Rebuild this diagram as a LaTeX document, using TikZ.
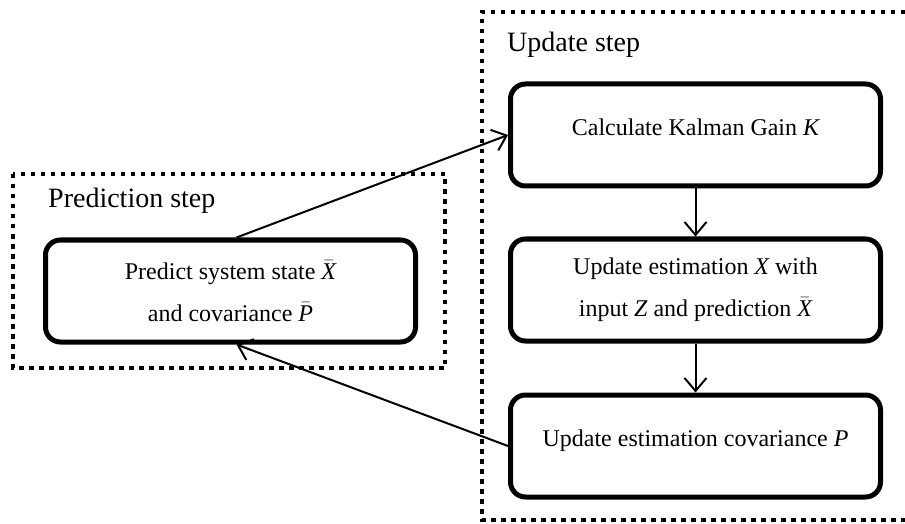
\documentclass[tikz,border=0pt]{standalone}
\usepackage{fontspec}
\setmainfont{Liberation Serif}
\usetikzlibrary{arrows.meta}
\newcommand\mvar[1]{\ensuremath{\mathit{#1}}}
\newcommand\mbar[1]{\ensuremath{\bar{\mathit{#1}}}}
\begin{document}
\begin{tikzpicture}[x=1pt,y=1pt,
  stepbox/.style={draw,line width=5pt,rounded corners=15pt,
    minimum width=370pt,minimum height=102pt,align=center,
    font=\fontsize{24}{42}\selectfont},
  onebox/.style={stepbox,text depth=15pt},
  groupline/.style={line width=4pt,dash pattern=on 4.5pt off 5.5pt},
  grouplabel/.style={anchor=base west,inner sep=0pt,font=\fontsize{28}{32}\selectfont},
  flow/.style={line width=2pt,-{Straight Barb[length=13pt,width=22pt,line width=2pt]}}]
\useasboundingbox (0,0) rectangle (905,523);

% dotted group frames
\draw[groupline] (13,349) rectangle (445,155);
\draw[groupline] (915,511) -- (482,511) -- (482,3) -- (915,3);

\node[grouplabel] (lpred) at (48,316) {Prediction step};
\node[grouplabel] (lupd) at (507,471) {Update step};

% steps
\node[stepbox] (predict) at (230.5,232) {Predict system state \mbar{X}\\and covariance \mbar{P}};
\node[onebox] (calc) at (695.5,388) {Calculate Kalman Gain \mvar{K}};
\node[stepbox] (upd) at (695.5,233) {Update estimation \mvar{X} with\\input \mvar{Z} and prediction \mbar{X}};
\node[onebox] (cov) at (695.5,77) {Update estimation covariance \mvar{P}};

% connectors
\draw[flow] ([xshift=6pt]predict.north) -- (calc.west);
\draw[flow] (calc.south) -- (upd.north);
\draw[flow] (upd.south) -- (cov.north);
\draw[flow] (cov.west) -- ([xshift=6pt]predict.south);
\end{tikzpicture}
\end{document}
